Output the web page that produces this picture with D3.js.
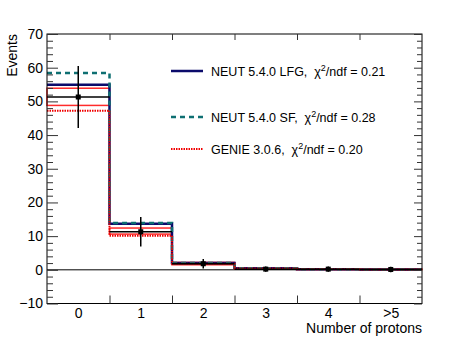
<!DOCTYPE html>
<html>
<head>
<meta charset="utf-8">
<script src="https://cdn.jsdelivr.net/npm/d3@7"></script>
<style>
  body { margin: 0; background: #fff; }
  svg { font-family: "Liberation Sans", Arial, sans-serif; }
  text { white-space: pre; }
</style>
</head>
<body>
<div class="container"></div>
<script>
// bins
const categories = ["0", "1", "2", "3", "4", ">5"];

// data points and errors
const dataVals = [51.3, 11.3, 1.8, 0.2, 0.2, 0.1];
const dataErr = [9.2, 4.4, 1.4, 0.8, 0.8, 0.8];

// red uncertainty band on the data
const bandLow = [48.8, 10.6, 1.5, 0.2, 0.1, 0.05];
const bandHigh = [53.9, 12.4, 2.2, 0.5, 0.3, 0.2];

// model predictions
const neutLfg = [54.9, 13.7, 2.0, 0.5, 0.2, 0.1];
const neutSf = [58.4, 13.9, 2.0, 0.5, 0.2, 0.1];
const genie = [47.2, 10.1, 1.8, 0.4, 0.2, 0.1];

const legendLabels = [
  { name: "NEUT 5.4.0 LFG,  ", chi: "0.21" },
  { name: "NEUT 5.4.0 SF,  ", chi: "0.28" },
  { name: "GENIE 3.0.6,  ", chi: "0.20" }
];

const yTicks = [-10, 0, 10, 20, 30, 40, 50, 60, 70];

const W = 469, H = 338;
const margin = { top: 34, right: 47, bottom: 34.5, left: 47 };
const FONT = "Liberation Sans, Arial, sans-serif";

const svg = d3.select(".container").append("svg")
  .attr("width", W).attr("height", H);

const x = d3.scaleLinear().domain([-0.5, 5.5]).range([margin.left, W - margin.right]);
const y = d3.scaleLinear().domain([-10, 70]).range([H - margin.bottom, margin.top]);

const edges = d3.range(0, 7).map(i => i - 0.5);
const minorTicks = d3.range(-10, 71, 2).filter(v => v % 10 !== 0);

// step path for a histogram
function stepPath(vals) {
  const p = d3.path();
  vals.forEach((v, i) => {
    if (i === 0) p.moveTo(x(i - 0.5), y(v));
    else p.lineTo(x(i - 0.5), y(v));
    p.lineTo(x(i + 0.5), y(v));
  });
  return p.toString();
}

// zero line
svg.append("line")
  .attr("x1", x(-0.5)).attr("x2", x(5.5))
  .attr("y1", y(0)).attr("y2", y(0))
  .attr("stroke", "#000").attr("stroke-width", 1);

// band boxes
svg.selectAll(".band").data(categories).enter().append("rect")
  .attr("class", "band")
  .attr("x", (d, i) => x(i - 0.5))
  .attr("width", (d, i) => x(i + 0.5) - x(i - 0.5))
  .attr("y", (d, i) => y(bandHigh[i]))
  .attr("height", (d, i) => y(bandLow[i]) - y(bandHigh[i]))
  .attr("fill", "none").attr("stroke", "#ff2a2a").attr("stroke-width", 1.5);

// models
const models = [
  { vals: neutLfg, color: "#0b0b6b", width: 2.5, dash: null },
  { vals: neutSf, color: "#0e6f72", width: 2.5, dash: "5,4" },
  { vals: genie, color: "#f00000", width: 2, dash: "1.5,1" }
];

models.forEach(m => {
  svg.append("path")
    .attr("d", stepPath(m.vals))
    .attr("fill", "none")
    .attr("stroke", m.color)
    .attr("stroke-width", m.width)
    .attr("stroke-dasharray", m.dash);
});

// data: horizontal bin line, error bar, marker
const dataG = svg.append("g");
dataG.selectAll(".xerr").data(dataVals).enter().append("line")
  .attr("x1", (d, i) => x(i - 0.5)).attr("x2", (d, i) => x(i + 0.5))
  .attr("y1", d => y(d)).attr("y2", d => y(d))
  .attr("stroke", "#000").attr("stroke-width", 1.5);
dataG.selectAll(".yerr").data(dataVals).enter().append("line")
  .attr("x1", (d, i) => x(i)).attr("x2", (d, i) => x(i))
  .attr("y1", (d, i) => y(d + dataErr[i])).attr("y2", (d, i) => y(d - dataErr[i]))
  .attr("stroke", "#000").attr("stroke-width", 1.5);
dataG.selectAll(".dot").data(dataVals).enter().append("rect")
  .attr("x", (d, i) => x(i) - 2.5).attr("y", d => y(d) - 2.5)
  .attr("width", 5).attr("height", 5).attr("fill", "#000");

// frame
svg.append("rect")
  .attr("x", x(-0.5)).attr("y", y(70))
  .attr("width", x(5.5) - x(-0.5)).attr("height", y(-10) - y(70))
  .attr("fill", "none").attr("stroke", "#000").attr("stroke-width", 1);

// axes
function styleAxis(g) {
  g.attr("font-size", 14).attr("font-family", FONT);
  g.select(".domain").remove();
  g.selectAll(".tick line").attr("stroke", "#333");
  g.selectAll("text").attr("fill", "#000");
}

svg.append("g").attr("transform", `translate(${x(-0.5)},0)`)
  .call(d3.axisLeft(y).tickValues(yTicks).tickSize(-11).tickPadding(4).tickFormat(d => d < 0 ? "\u2212" + Math.abs(d) : d))
  .call(styleAxis);
svg.append("g").attr("transform", `translate(${x(-0.5)},0)`)
  .call(d3.axisLeft(y).tickValues(minorTicks).tickSize(-6).tickFormat(""))
  .call(styleAxis);
svg.append("g").attr("transform", `translate(${x(5.5)},0)`)
  .call(d3.axisRight(y).tickValues(yTicks).tickSize(-8).tickFormat(""))
  .call(styleAxis);
svg.append("g").attr("transform", `translate(${x(5.5)},0)`)
  .call(d3.axisRight(y).tickValues(minorTicks).tickSize(-5).tickFormat(""))
  .call(styleAxis);

// x axis: ticks at bin edges, labels at centres
svg.append("g").attr("transform", `translate(0,${y(-10)})`)
  .call(d3.axisBottom(x).tickValues(edges.slice(1, -1)).tickSize(-8).tickFormat(""))
  .call(styleAxis);
svg.append("g").attr("transform", `translate(0,${y(70)})`)
  .call(d3.axisTop(x).tickValues(edges.slice(1, -1)).tickSize(-6).tickFormat(""))
  .call(styleAxis);
svg.append("g").attr("transform", `translate(0,${y(-10)})`)
  .call(d3.axisBottom(x).tickValues(d3.range(0, 6)).tickSize(0).tickPadding(5).tickFormat(i => categories[i]))
  .call(styleAxis);

// axis titles
svg.append("text")
  .attr("transform", `translate(17,${y(70)}) rotate(-90)`)
  .attr("text-anchor", "end").attr("font-size", 14).text("Events");
svg.append("text")
  .attr("x", x(5.5)).attr("y", 333)
  .attr("text-anchor", "end").attr("font-size", 14).text("Number of protons");

// legend
const legY = [71, 117, 149];
const leg = svg.append("g");
models.forEach((m, i) => {
  leg.append("line")
    .attr("x1", 171).attr("x2", 203)
    .attr("y1", legY[i]).attr("y2", legY[i])
    .attr("stroke", m.color).attr("stroke-width", m.width)
    .attr("stroke-dasharray", m.dash);
  const t = leg.append("text")
    .attr("x", 211).attr("y", legY[i] + 4.5)
    .attr("font-size", 12.5);
  t.append("tspan").text(legendLabels[i].name + "\u03C7");
  t.append("tspan").attr("dy", -5).attr("font-size", 9).text("2");
  t.append("tspan").attr("dy", 5).text("/ndf = " + legendLabels[i].chi);
});
</script>
</body>
</html>
